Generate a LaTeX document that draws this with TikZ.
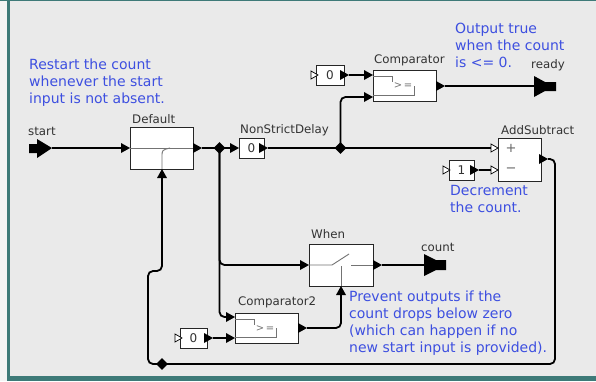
\documentclass[tikz,border=0pt]{standalone}
\usepackage{fontspec}
\setmainfont{DejaVu Sans}
\usetikzlibrary{calc,shapes.geometric}
\definecolor{bg}{HTML}{EAEAEA}
\definecolor{outer}{HTML}{F4F4F4}
\definecolor{frame}{HTML}{3E7A78}
\definecolor{notec}{HTML}{3D4FE0}
\definecolor{lbl}{HTML}{333333}
\begin{document}
\begin{tikzpicture}[x=1pt,y=-1pt,
 box/.style={draw=black!85, fill=white, line width=0.8pt, inner sep=0pt, outer sep=0pt},
 wire/.style={draw=black, line width=1.8pt, rounded corners=5pt},
 icon/.style={draw=black!55, line width=0.9pt},
 lab/.style={anchor=base west, inner sep=0pt, text=lbl, font=\fontsize{11.8}{14}\selectfont},
 note/.style={anchor=base west, inner sep=0pt, text=notec, align=left, font=\fontsize{14}{17}\selectfont},
 val/.style={inner sep=0pt, text=lbl, font=\fontsize{12}{14}\selectfont},
 rel/.style={diamond, fill=black, inner sep=0pt, minimum size=12pt},
 inp/.pic={\fill[black] (0,0) -- (-9,-5) -- (-9,5) -- cycle;},
 trig/.pic={\filldraw[fill=white,draw=black,line width=0.7pt] (0,0) -- (-7,-4) -- (-7,4) -- cycle;},
]
% background and frame
\useasboundingbox (0,0) rectangle (596,381);
\fill[outer] (0,0) rectangle (596,381);
\fill[bg] (10,1) rectangle (596,376);
\fill[frame] (7,0) rectangle (10,381);
\fill[frame] (7,376) rectangle (596,381);
\fill[frame] (0,0) rectangle (596,1);

% boxes
\node[box, minimum width=63pt, minimum height=42pt] (default) at (161.5,148) {};
\node[box, minimum width=25pt, minimum height=20pt] (nsd) at (251.5,148) {};
\node[box, minimum width=63pt, minimum height=31pt] (cmp) at (404.5,85.5) {};
\node[box, minimum width=28pt, minimum height=20pt] (zeroa) at (330,75) {};
\node[box, minimum width=43pt, minimum height=43pt] (addsub) at (519.5,159.5) {};
\node[box, minimum width=25pt, minimum height=20pt] (one) at (461.5,170) {};
\node[box, minimum width=64pt, minimum height=42pt] (when) at (341,265) {};
\node[box, minimum width=63pt, minimum height=30pt] (cmptwo) at (266.5,328) {};
\node[box, minimum width=27pt, minimum height=20pt] (zerob) at (193.5,338) {};

% relation points
\coordinate (d1) at (219.5,148);
\coordinate (d2) at (340.5,148);
\coordinate (d3) at (162,364);

% port coordinates
\coordinate (startp) at (52,148);
\coordinate (defin) at (121,148);
\coordinate (defbot) at (162,178);
\coordinate (defout) at (202,148);
\coordinate (nsdin) at (230,148);
\coordinate (nsdout) at (268,148);
\coordinate (cmpina) at (364,75);
\coordinate (cmpinb) at (364,97);
\coordinate (cmpout) at (445,86);
\coordinate (zeroaout) at (349,75);
\coordinate (readyp) at (534,86);
\coordinate (addplus) at (491,148);
\coordinate (addminus) at (491,170);
\coordinate (addout) at (548,159);
\coordinate (oneout) at (479,170);
\coordinate (whenin) at (300,265);
\coordinate (whenout) at (382,265);
\coordinate (whenctl) at (341,295);
\coordinate (countp) at (424,265);
\coordinate (cmptwoina) at (226,317);
\coordinate (cmptwoinb) at (226,338);
\coordinate (cmptwoout) at (307,328);
\coordinate (zerobout) at (213,338);

% wires
\draw[wire] (startp) -- (defin);
\draw[wire] (defout) -- (d1) -- (nsdin);
\draw[wire] (nsdout) -- (d2) -- (addplus);
\draw[wire] (d2) |- (cmpinb);
\draw[wire] (zeroaout) -- (cmpina);
\draw[wire] (cmpout) -- (readyp);
\draw[wire] (oneout) -- (addminus);
\draw[wire] (addout) -- (555,159) -- (555,364) -- (d3);
\draw[wire] (d3) -- (148,364) -- (148,271) -- (162,271) -- (defbot);
\draw[wire] (d1) |- (whenin);
\draw[wire] (d1) |- (cmptwoina);
\draw[wire] (whenout) -- (countp);
\draw[wire] (zerobout) -- (cmptwoinb);
\draw[wire] (cmptwoout) -| (whenctl);

% icons
\draw[icon] (default.west) -- (default.east);
\draw[icon] (162,169) -- (162,157) .. controls (162,150) .. (170,148);
\foreach \b in {cmp,cmptwo}{
  \draw[icon] ($(\b.north west)+(0,6)$) -- ($(\b.north west)+(19,6)$) -- ($(\b.north west)+(19,12)$);
  \draw[icon] ($(\b.south west)+(0,-6)$) -- ($(\b.south west)+(41,-6)$) -- ($(\b.south west)+(41,-15)$);
  \node[inner sep=0pt, text=black!55, font=\fontsize{10}{12}\selectfont] at ($(\b.north west)+(30,16)$) {>\,=};
}
\draw[icon] (when.west) -- (332,265) -- (349,254);
\draw[icon] (351,265) -- (when.east);
\draw[icon] (when.south) -- (341,266);

% values in boxes
\node[val] at (zeroa) {0};
\node[val] at (nsd) {0};
\node[val] at (one) {1};
\node[val] at (zerob) {0};
\node[val, text=black!60, font=\fontsize{13}{14}\selectfont] at (511,148) {+};
\node[val, text=black!60, font=\fontsize{13}{14}\selectfont] at (511,170) {−};

% port triangles
\pic at (default.west) {inp};
\pic at (202,148) {inp};
\fill[black] (162,169) -- (157,178) -- (167,178) -- cycle;
\pic at (nsd.west) {inp};
\pic at (268,148) {inp};
\pic at (373,75) {inp};
\pic at (373,97) {inp};
\pic at (445,86) {inp};
\pic at (349,75) {inp};
\pic at (318,75) {trig};
\pic at (498,148) {trig};
\pic at (498,170) {trig};
\pic at (548,159) {inp};
\pic at (450,170) {trig};
\pic at (479,170) {inp};
\pic at (when.west) {inp};
\pic at (382,265) {inp};
\fill[black] (341,286) -- (336,295) -- (346,295) -- cycle;
\pic at (235,317) {inp};
\pic at (235,338) {inp};
\pic at (307,328) {inp};
\pic at (182,338) {trig};
\pic at (213,338) {inp};

% external ports
\fill[black] (29,144) -- (37,144) -- (37,139) -- (startp) -- (37,158) -- (37,153) -- (29,153) -- cycle;
\fill[black] (readyp) ++(0,-10) -- (545,82) -- (556,82) -- (556,91) -- (545,91) -- (534,97) -- cycle;
\fill[black] (countp) ++(0,-11) -- (436,260) -- (446,260) -- (446,270) -- (436,270) -- (424,276) -- cycle;

% relations
\node[rel] (r1) at (d1) {};
\node[rel] (r2) at (d2) {};
\node[rel] (r3) at (d3) {};

% labels
\node[lab] (lstart) at (28,135) {start};
\node[lab] (ldefault) at (132,123) {Default};
\node[lab] (lnsd) at (240,133) {NonStrictDelay};
\node[lab] (lcmp) at (374,63) {Comparator};
\node[lab] (lready) at (531,68) {ready};
\node[lab] (ladd) at (501,134) {AddSubtract};
\node[lab] (lwhen) at (311,238) {When};
\node[lab] (lcount) at (421,251) {count};
\node[lab] (lcmptwo) at (238,305) {Comparator2};

% notes (base anchor = last line)
\node[note] (n1) at (29,103) {Restart the count\\whenever the start\\input is not absent.};
\node[note] (n2) at (455,67) {Output true\\when the count\\is <= 0.};
\node[note] (n3) at (450,212) {Decrement\\the count.};
\node[note] (n4) at (349,352) {Prevent outputs if the\\count drops below zero\\(which can happen if no\\new start input is provided).};
\end{tikzpicture}
\end{document}
